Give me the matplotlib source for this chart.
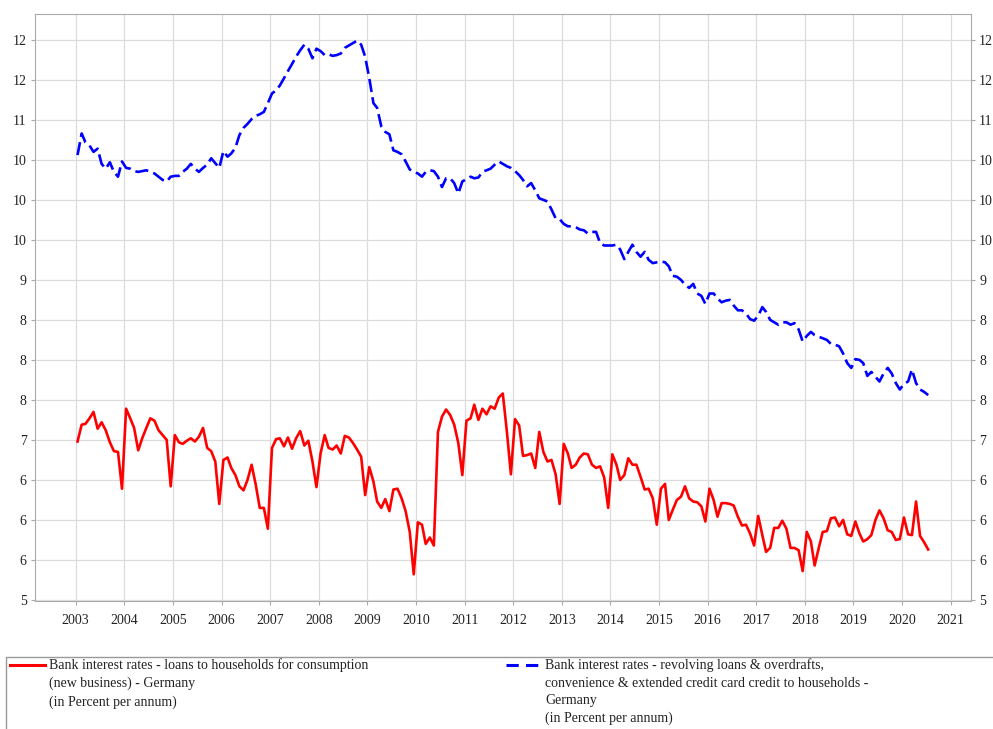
import matplotlib
matplotlib.use("Agg")
import matplotlib.pyplot as plt
import matplotlib.dates as mdates
from matplotlib.lines import Line2D
from matplotlib.patches import Rectangle
from matplotlib.ticker import MultipleLocator, FormatStrFormatter
import pandas as pd

plt.rcParams['font.family'] = ['Liberation Serif', 'DejaVu Serif']

# monthly, Jan 2003 - Jul 2020 (percent per annum)
months = pd.date_range('2003-01-01', periods=211, freq='MS') + pd.Timedelta(days=14)

consumption = [
    6.98, 7.19, 7.20, 7.27, 7.35, 7.14, 7.22, 7.12, 6.97, 6.86, 6.85, 6.39,
    7.39, 7.27, 7.15, 6.87, 7.02, 7.15, 7.27, 7.24, 7.12, 7.06, 7.00, 6.42,
    7.06, 6.97, 6.95, 6.99, 7.02, 6.98, 7.04, 7.15, 6.90, 6.86, 6.73, 6.20,
    6.75, 6.78, 6.65, 6.56, 6.42, 6.37, 6.50, 6.69, 6.44, 6.15, 6.15, 5.89,
    6.90, 7.01, 7.02, 6.92, 7.03, 6.89, 7.02, 7.11, 6.93, 6.99, 6.73, 6.41,
    6.83, 7.06, 6.90, 6.88, 6.93, 6.83, 7.05, 7.03, 6.96, 6.88, 6.79, 6.31,
    6.66, 6.48, 6.23, 6.15, 6.26, 6.11, 6.38, 6.39, 6.27, 6.11, 5.85, 5.32,
    5.97, 5.94, 5.70, 5.78, 5.68, 7.10, 7.29, 7.38, 7.31, 7.19, 6.96, 6.56,
    7.24, 7.27, 7.44, 7.25, 7.39, 7.32, 7.42, 7.39, 7.53, 7.58, 7.10, 6.57,
    7.26, 7.18, 6.80, 6.81, 6.83, 6.65, 7.10, 6.85, 6.73, 6.75, 6.57, 6.20,
    6.95, 6.83, 6.65, 6.69, 6.78, 6.83, 6.82, 6.69, 6.65, 6.67, 6.53, 6.15,
    6.82, 6.69, 6.50, 6.56, 6.77, 6.69, 6.69, 6.54, 6.38, 6.39, 6.27, 5.94,
    6.39, 6.45, 6.00, 6.13, 6.25, 6.29, 6.42, 6.27, 6.23, 6.22, 6.17, 5.98,
    6.39, 6.25, 6.04, 6.21, 6.21, 6.20, 6.18, 6.04, 5.93, 5.94, 5.83, 5.68,
    6.05, 5.81, 5.60, 5.65, 5.90, 5.90, 5.99, 5.89, 5.65, 5.65, 5.62, 5.36,
    5.85, 5.73, 5.43, 5.65, 5.85, 5.86, 6.02, 6.03, 5.92, 6.00, 5.82, 5.80,
    5.98, 5.83, 5.73, 5.76, 5.81, 6.00, 6.12, 6.02, 5.87, 5.85, 5.75, 5.76,
    6.03, 5.82, 5.81, 6.23, 5.80, 5.72, 5.63,
]

revolving = [
    10.56, 10.83, 10.72, 10.68, 10.60, 10.64, 10.45, 10.39, 10.47, 10.35, 10.29, 10.48,
    10.40, 10.39, 10.36, 10.35, 10.36, 10.37, 10.35, 10.33, 10.29, 10.25, 10.23, 10.29,
    10.30, 10.30, 10.35, 10.39, 10.45, 10.39, 10.35, 10.40, 10.44, 10.52, 10.46, 10.40,
    10.61, 10.54, 10.58, 10.65, 10.81, 10.90, 10.95, 11.01, 11.05, 11.07, 11.10, 11.21,
    11.33, 11.37, 11.43, 11.52, 11.61, 11.70, 11.79, 11.87, 11.94, 11.89, 11.77, 11.89,
    11.86, 11.81, 11.82, 11.80, 11.81, 11.83, 11.90, 11.93, 11.96, 11.99, 11.94, 11.79,
    11.52, 11.21, 11.15, 10.92, 10.85, 10.82, 10.62, 10.60, 10.57, 10.48, 10.38, 10.35,
    10.33, 10.29, 10.35, 10.37, 10.36, 10.29, 10.16, 10.27, 10.27, 10.21, 10.08, 10.23,
    10.26, 10.29, 10.27, 10.28, 10.35, 10.37, 10.39, 10.44, 10.48, 10.45, 10.42, 10.40,
    10.36, 10.31, 10.25, 10.17, 10.21, 10.12, 10.02, 10.00, 9.98, 9.88, 9.77, 9.76,
    9.70, 9.67, 9.67, 9.66, 9.63, 9.62, 9.58, 9.60, 9.60, 9.46, 9.43, 9.43,
    9.43, 9.44, 9.38, 9.26, 9.35, 9.44, 9.35, 9.29, 9.35, 9.25, 9.21, 9.22,
    9.23, 9.22, 9.17, 9.05, 9.04, 9.00, 8.94, 8.90, 8.95, 8.83, 8.80, 8.70,
    8.83, 8.83, 8.77, 8.72, 8.74, 8.75, 8.68, 8.62, 8.62, 8.58, 8.51, 8.49,
    8.55, 8.66, 8.60, 8.50, 8.47, 8.44, 8.47, 8.47, 8.44, 8.46, 8.38, 8.23,
    8.30, 8.35, 8.31, 8.29, 8.27, 8.25, 8.20, 8.19, 8.17, 8.08, 7.96, 7.90,
    8.01, 8.00, 7.96, 7.80, 7.85, 7.79, 7.73, 7.83, 7.90, 7.83, 7.71, 7.63,
    7.70, 7.73, 7.88, 7.71, 7.63, 7.60, 7.56,
]

label_red = ("Bank interest rates - loans to households for consumption\n"
             "(new business) - Germany\n(in Percent per annum)")
label_blue = ("Bank interest rates - revolving loans & overdrafts,\n"
              "convenience & extended credit card credit to households -\n"
              "Germany\n(in Percent per annum)")

fig = plt.figure(figsize=(9.93, 7.29), dpi=100)
ax = fig.add_axes([35/993, 1 - 601/729, (970.7 - 35)/993, (601 - 14)/729])

ax.plot(months, consumption, color='#ff0000', lw=1.9)
ax.plot(months, revolving, color='#0000ff', lw=1.9, linestyle=(0, (5, 2)))

ax.xaxis.set_major_locator(mdates.YearLocator())
ax.xaxis.set_major_formatter(mdates.DateFormatter('%Y'))
ax.yaxis.set_major_locator(MultipleLocator(0.5))
ax.yaxis.set_major_formatter(FormatStrFormatter('%.0f'))

ax.grid(True, color='#dcdcdc', lw=0.9)
ax.set_axisbelow(True)
for s in ax.spines.values():
    s.set_color('#aaaaaa')
ax.tick_params(axis='both', labelsize=10, colors='#aaaaaa', labelcolor='#222222',
               length=3, pad=3)
ax.tick_params(axis='y', right=True, labelright=True)
ax.tick_params(axis='x', pad=6)

# legend area below the chart
fig.add_artist(Rectangle((6/993, -0.2), 1.2, 0.2 + 1 - 657/729,
                         transform=fig.transFigure, fill=False,
                         edgecolor='#999999', lw=1))
y1 = 1 - 665/729
fig.add_artist(Line2D([10/993, 45/993], [y1, y1], color='#ff0000', lw=2.2,
                      transform=fig.transFigure))
fig.add_artist(Line2D([506/993, 541/993], [y1, y1], color='#0000ff', lw=2.2,
                      linestyle=(0, (4, 2.4)), transform=fig.transFigure))
fig.text(49/993, 1 - 658.5/729, label_red, fontsize=10, va='top', ha='left',
         linespacing=1.45, color='#222222')
fig.text(545/993, 1 - 658.5/729, label_blue, fontsize=10, va='top', ha='left',
         linespacing=1.45, color='#222222')

fig.savefig('out.png', dpi=100)
